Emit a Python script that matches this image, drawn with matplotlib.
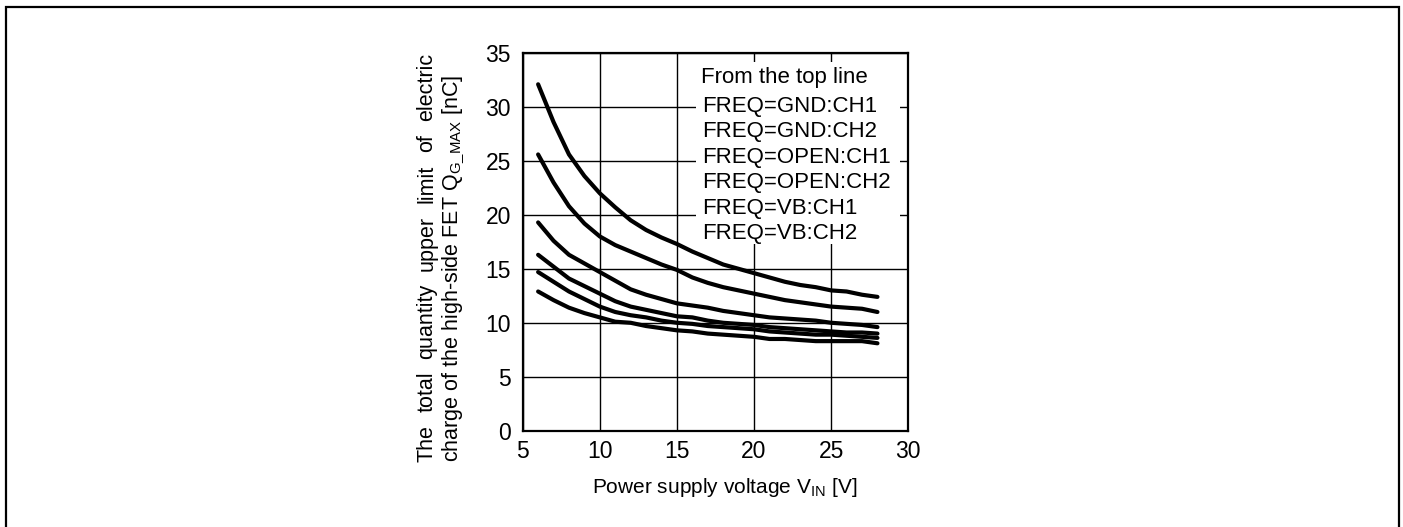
import matplotlib
matplotlib.use('Agg')
import matplotlib.pyplot as plt
from matplotlib.patches import Rectangle

plt.rcParams['font.family'] = ['Liberation Sans', 'DejaVu Sans']
plt.rcParams['mathtext.fontset'] = 'custom'
plt.rcParams['mathtext.rm'] = 'Liberation Sans'
plt.rcParams['mathtext.it'] = 'Liberation Sans:italic'
plt.rcParams['mathtext.bf'] = 'Liberation Sans:bold'

# ---------------- data ----------------
vin = [6, 7, 8, 9, 10, 11, 12, 13, 14, 15, 16, 17, 18, 19, 20, 21, 22, 23, 24, 25, 26, 27, 28]
gnd_ch1 = [32.1, 28.6, 25.6, 23.6, 22.0, 20.7, 19.5, 18.6, 17.9, 17.3, 16.6, 16.0, 15.4, 15.0, 14.6, 14.2, 13.8, 13.5, 13.3, 13.0, 12.9, 12.6, 12.4]
gnd_ch2 = [25.6, 23.0, 20.8, 19.2, 18.0, 17.2, 16.6, 16.0, 15.4, 14.9, 14.2, 13.7, 13.3, 13.0, 12.7, 12.4, 12.1, 11.9, 11.7, 11.5, 11.4, 11.3, 11.0]
open_ch1 = [19.3, 17.6, 16.3, 15.5, 14.7, 13.9, 13.1, 12.6, 12.2, 11.8, 11.6, 11.4, 11.1, 10.9, 10.7, 10.5, 10.4, 10.3, 10.2, 10.0, 9.9, 9.8, 9.6]
open_ch2 = [16.3, 15.2, 14.1, 13.4, 12.7, 12.0, 11.5, 11.2, 10.9, 10.6, 10.5, 10.2, 10.0, 9.9, 9.8, 9.6, 9.5, 9.4, 9.3, 9.2, 9.1, 9.1, 9.0]
vb_ch1 = [14.7, 13.8, 12.9, 12.2, 11.5, 11.0, 10.7, 10.5, 10.2, 10.0, 9.9, 9.7, 9.6, 9.5, 9.4, 9.2, 9.1, 9.0, 8.9, 8.9, 8.8, 8.7, 8.6]
vb_ch2 = [12.9, 12.1, 11.4, 10.9, 10.5, 10.1, 10.0, 9.7, 9.5, 9.3, 9.2, 9.0, 8.9, 8.8, 8.7, 8.5, 8.5, 8.4, 8.3, 8.3, 8.3, 8.3, 8.1]
series = [gnd_ch1, gnd_ch2, open_ch1, open_ch2, vb_ch1, vb_ch2]

legend_title = "From the top line"
legend_labels = ["FREQ=GND:CH1", "FREQ=GND:CH2", "FREQ=OPEN:CH1",
                 "FREQ=OPEN:CH2", "FREQ=VB:CH1", "FREQ=VB:CH2"]
xticks = [5, 10, 15, 20, 25, 30]
yticks = [0, 5, 10, 15, 20, 25, 30, 35]
ylabel_line1 = ["The", "total", "quantity", "upper", "limit", "of", "electric"]
ylabel_line2 = r"charge of the high-side FET Q$_{\mathrm{G\_MAX}}$ [nC]"
xlabel = r"Power supply voltage V$_{\mathrm{IN}}$ [V]"

# ---------------- figure ----------------
W, H = 1403, 527
fig = plt.figure(figsize=(W / 100, H / 100), dpi=100)
ax = fig.add_axes([522.7 / W, 1 - 430.7 / H, (908.3 - 522.7) / W, (430.7 - 53) / H])

ax.set_xlim(5, 30)
ax.set_ylim(0, 35)
ax.set_xticks(xticks)
ax.set_yticks(yticks)
ax.tick_params(axis='both', length=0, labelsize=16.5, colors='black')
ax.tick_params(axis='y', pad=8.5)
ax.tick_params(axis='x', pad=7)
ax.set_axisbelow(True)
ax.grid(True, color='black', linewidth=1.0)
for s in ax.spines.values():
    s.set_linewidth(1.6)
    s.set_color('black')

# white box behind legend text (covers gridlines)
ax.add_patch(Rectangle((16.22, 17.3), 29.44 - 16.22, 34.2 - 17.3,
                       facecolor='white', edgecolor='none', zorder=1))

for ys in series:
    ax.plot(vin, ys, color='black', linewidth=3.0, solid_capstyle='round',
            solid_joinstyle='round', zorder=3)

ax.text(16.55, 32.2, legend_title, fontsize=16, ha='left', va='baseline', zorder=4)
for i, lab in enumerate(legend_labels):
    ax.text(16.65, 29.55 - 2.36 * i, lab, fontsize=16, ha='left', va='baseline', zorder=4)

# x label
fig.text(725 / W, 1 - 492.7 / H, xlabel, fontsize=15, ha='center', va='baseline')

# y label line 2 (natural spacing)
fig.text(458 / W, 1 - 461.7 / H, ylabel_line2, fontsize=15.5, rotation=90,
         rotation_mode='anchor', ha='left', va='baseline')

# y label line 1 (justified between bottom and top)
renderer = fig.canvas.get_renderer()
y_start = H - 461.7
y_end = H - 53
words = [fig.text(0, 0, w, fontsize=15.5, rotation=90, rotation_mode='anchor',
                  ha='left', va='baseline') for w in ylabel_line1]
lengths = [t.get_window_extent(renderer).height for t in words]
gap = (y_end - y_start - sum(lengths)) / (len(words) - 1)
pos = y_start
for t, L in zip(words, lengths):
    t.set_position((432.5 / W, pos / H))
    pos += L + gap

# outer frame
fig.add_artist(Rectangle((6 / W, -0.02), (1398.5 - 6) / W, 1.02 - 7 / H,
                         transform=fig.transFigure, fill=False,
                         edgecolor='black', linewidth=1.6))

fig.savefig('out.png', dpi=100)
